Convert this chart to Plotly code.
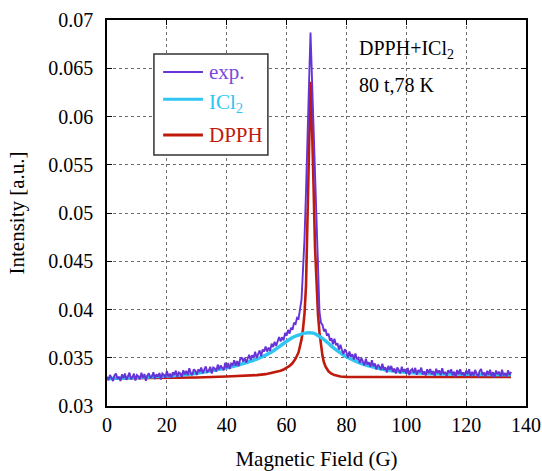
import plotly.graph_objects as go

# ---------------- data ----------------
# experimental spectrum, sampled every 0.5 G from 0 to 135 G
exp_intensity = [
    0.03302, 0.03266, 0.03322, 0.03285, 0.03259, 0.03317, 0.03337, 0.03279, 0.03303, 0.03259,
    0.03328, 0.03288, 0.03337, 0.03271, 0.03310, 0.03346, 0.03279, 0.03297, 0.03335, 0.03264,
    0.03320, 0.03305, 0.03276, 0.03344, 0.03290, 0.03331, 0.03262, 0.03318, 0.03340, 0.03289,
    0.03307, 0.03349, 0.03279, 0.03328, 0.03304, 0.03342, 0.03274, 0.03337, 0.03324, 0.03293,
    0.03363, 0.03305, 0.03335, 0.03289, 0.03351, 0.03322, 0.03366, 0.03304, 0.03348, 0.03339,
    0.03299, 0.03371, 0.03328, 0.03365, 0.03322, 0.03392, 0.03339, 0.03320, 0.03380, 0.03364,
    0.03321, 0.03379, 0.03360, 0.03399, 0.03340, 0.03382, 0.03410, 0.03352, 0.03367, 0.03407,
    0.03337, 0.03399, 0.03390, 0.03358, 0.03429, 0.03379, 0.03421, 0.03395, 0.03370, 0.03449,
    0.03390, 0.03446, 0.03383, 0.03439, 0.03424, 0.03474, 0.03418, 0.03467, 0.03413, 0.03487,
    0.03505, 0.03459, 0.03500, 0.03450, 0.03498, 0.03531, 0.03476, 0.03526, 0.03498, 0.03562,
    0.03498, 0.03549, 0.03576, 0.03516, 0.03585, 0.03564, 0.03615, 0.03564, 0.03604, 0.03571,
    0.03646, 0.03611, 0.03665, 0.03623, 0.03679, 0.03715, 0.03668, 0.03712, 0.03682, 0.03756,
    0.03728, 0.03788, 0.03750, 0.03811, 0.03790, 0.03864, 0.03850, 0.03915,
    0.03905, 0.04018, 0.04105, 0.04420, 0.04740, 0.05230, 0.05680, 0.06340, 0.06870,
    0.06380, 0.05930, 0.05370, 0.04800, 0.04230, 0.03975, 0.03862, 0.03840,
    0.03773, 0.03797, 0.03727, 0.03750, 0.03677, 0.03702, 0.03640, 0.03698, 0.03631, 0.03650,
    0.03584, 0.03634, 0.03580, 0.03538, 0.03588,
    0.03555, 0.03502, 0.03566, 0.03510, 0.03537, 0.03483, 0.03543, 0.03484, 0.03500, 0.03445,
    0.03498, 0.03460, 0.03421, 0.03489, 0.03429, 0.03452, 0.03407, 0.03474, 0.03412, 0.03442,
    0.03378, 0.03428, 0.03410, 0.03374, 0.03439, 0.03376, 0.03402, 0.03346, 0.03416, 0.03376,
    0.03415, 0.03354, 0.03389, 0.03336, 0.03399, 0.03372, 0.03337, 0.03407, 0.03355, 0.03382,
    0.03336, 0.03394, 0.03321, 0.03369, 0.03384, 0.03342, 0.03395, 0.03324, 0.03372, 0.03351,
    0.03398, 0.03327, 0.03359, 0.03317, 0.03381, 0.03341, 0.03383, 0.03329, 0.03362, 0.03310,
    0.03386, 0.03341, 0.03369, 0.03319, 0.03392, 0.03332, 0.03353, 0.03309, 0.03371, 0.03344,
    0.03379, 0.03318, 0.03356, 0.03301, 0.03373, 0.03329, 0.03381, 0.03322, 0.03348, 0.03306,
    0.03368, 0.03330, 0.03381, 0.03309, 0.03355, 0.03315, 0.03374, 0.03334, 0.03300, 0.03360,
    0.03383, 0.03320, 0.03347, 0.03305, 0.03364, 0.03325, 0.03375, 0.03309, 0.03351, 0.03295,
    0.03368, 0.03330, 0.03356, 0.03300, 0.03376, 0.03315, 0.03341, 0.03306, 0.03369, 0.03321,
    0.03354,
]
exp_field = [i * 0.5 for i in range(len(exp_intensity))]

# ICl2 component (broad line)
icl2_field = [0, 10, 20, 30, 40, 45, 50, 55, 58, 60, 62, 64, 66, 67.5, 69, 70, 71, 72,
              73, 74, 75, 76, 78, 80, 85, 90, 95, 100, 110, 120, 135]
icl2_intensity = [0.03285, 0.03295, 0.03310, 0.03340, 0.03395, 0.03435, 0.03485, 0.03560,
                  0.03625, 0.03670, 0.03710, 0.03735, 0.03755, 0.03760, 0.03755, 0.03740,
                  0.03720, 0.03700, 0.03675, 0.03650, 0.03620, 0.03595, 0.03550, 0.03510,
                  0.03440, 0.03395, 0.03365, 0.03350, 0.03335, 0.03330, 0.03325]

# DPPH component (narrow line)
dpph_field = [0, 10, 20, 30, 40, 45, 50, 53, 55, 57, 58, 59, 60, 61, 62, 63, 64, 64.5, 65,
              65.5, 66, 66.5, 67, 67.5, 67.8, 68.0, 68.2, 68.5, 69, 69.5, 70, 70.5, 71,
              71.5, 72, 72.5, 73, 74, 75, 76, 77, 78, 80, 90, 100, 110, 120, 135]
dpph_intensity = [0.03286, 0.03288, 0.03292, 0.03296, 0.03305, 0.03310, 0.03320, 0.03330,
                  0.03342, 0.03355, 0.03365, 0.03378, 0.03395, 0.03415, 0.03445, 0.03490,
                  0.03555, 0.03610, 0.03690, 0.03800, 0.03960, 0.04250, 0.04950, 0.05750,
                  0.06200, 0.06360, 0.06250, 0.05950, 0.05300, 0.04650, 0.04200, 0.03950,
                  0.03760, 0.03620, 0.03520, 0.03450, 0.03410, 0.03360, 0.03335, 0.03320,
                  0.03310, 0.03305, 0.03302, 0.03300, 0.03300, 0.03300, 0.03300, 0.03300]

series_names = ["exp.", "ICl<sub>2</sub>", "DPPH"]

PURPLE = "#6633d6"
PURPLE_TXT = "#7a48e0"
CYAN = "#2fc6f2"
RED = "#c01a0c"
FONT = "Liberation Serif, Times New Roman, serif"

fig = go.Figure()
fig.add_trace(go.Scatter(x=dpph_field, y=dpph_intensity, mode="lines",
                         line=dict(color=RED, width=2.6), name="DPPH", showlegend=False))
fig.add_trace(go.Scatter(x=icl2_field, y=icl2_intensity, mode="lines",
                         line=dict(color=CYAN, width=3.5, shape="spline"),
                         name="ICl2", showlegend=False))
fig.add_trace(go.Scatter(x=exp_field, y=exp_intensity, mode="lines",
                         line=dict(color=PURPLE, width=1.9), name="exp.", showlegend=False))

axis_common = dict(
    showline=True, linecolor="black", linewidth=1.5, mirror="allticks",
    ticks="inside", ticklen=5, tickcolor="black",
    showgrid=True, gridcolor="#6e6e6e", griddash="dot", gridwidth=1,
    zeroline=False, tickfont=dict(family=FONT, size=20, color="black"),
    automargin=False,
)

# ---- hand-built legend box (paper coordinates) ----
LX0, LX1, LY0, LY1 = 0.112, 0.384, 0.650, 0.912
line_x0, line_x1, text_x = 0.134, 0.229, 0.239
entry_y = [0.865, 0.795, 0.702]
entry_colors = [PURPLE, CYAN, RED]
entry_text_colors = [PURPLE_TXT, CYAN, RED]
entry_widths = [2.0, 3.0, 3.0]

shapes = [dict(type="rect", xref="paper", yref="paper", x0=LX0, x1=LX1, y0=LY0, y1=LY1,
               line=dict(color="#333333", width=1.5), fillcolor="white", layer="above")]
annotations = []
for name, yy, c, tc, w in zip(series_names, entry_y, entry_colors, entry_text_colors, entry_widths):
    shapes.append(dict(type="line", xref="paper", yref="paper", x0=line_x0, x1=line_x1,
                       y0=yy, y1=yy, line=dict(color=c, width=w), layer="above"))
    has_sub = "<sub>" in name
    annotations.append(dict(text=name, xref="paper", yref="paper", x=text_x,
                            y=yy - (0.011 if has_sub else 0), xanchor="left", yanchor="middle",
                            showarrow=False, font=dict(family=FONT, size=21, color=tc)))

annotations += [
    dict(text="DPPH+ICl<sub>2</sub>", xref="paper", yref="paper", x=0.597, y=0.924,
         xanchor="left", yanchor="middle", showarrow=False,
         font=dict(family=FONT, size=20, color="black")),
    dict(text="80 t,78 K", xref="paper", yref="paper", x=0.597, y=0.832,
         xanchor="left", yanchor="middle", showarrow=False,
         font=dict(family=FONT, size=20, color="black")),
]

fig.update_layout(
    width=542, height=471,
    margin=dict(l=107, r=16, t=20, b=65),
    paper_bgcolor="white", plot_bgcolor="white",
    font=dict(family=FONT, color="black"),
    xaxis=dict(range=[0, 140], dtick=20, tick0=0,
               title=dict(text="Magnetic Field (G)", font=dict(family=FONT, size=21), standoff=25),
               **axis_common),
    yaxis=dict(range=[0.03, 0.07], dtick=0.005, tick0=0.03,
               title=dict(text="Intensity [a.u.]", font=dict(family=FONT, size=21), standoff=18),
               ticklabelstandoff=8,
               **axis_common),
    showlegend=False,
    shapes=shapes,
    annotations=annotations,
)

fig.write_html("out.html", config={"displayModeBar": False},
               post_script="document.body.style.margin='0px';document.body.style.overflow='hidden';")
